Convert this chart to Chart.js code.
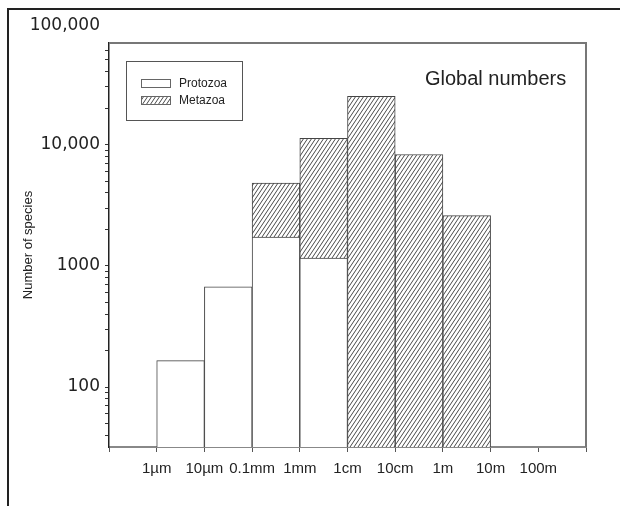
<!DOCTYPE html>
<html>
<head>
<meta charset="utf-8">
<script src="https://cdn.jsdelivr.net/npm/chart.js@4/dist/chart.umd.min.js"></script>
<style>
    body { margin: 0; background: #fff; }
    #wrap { position: relative; width: 620px; height: 506px; overflow: hidden; }
    #frame {
        position: absolute; left: 7px; top: 8px; right: -10px; bottom: -10px;
        border-left: 2px solid #222; border-top: 2px solid #222;
        pointer-events: none;
    }
    canvas { position: absolute; left: 0; top: 0; }
</style>
</head>
<body>
<div id="wrap">
    <canvas id="chart" width="620" height="506"></canvas>
    <div id="frame"></div>
</div>
<script>
// Size classes on the x axis (one tick each)
const sizeLabels = ['1µm', '10µm', '0.1mm', '1mm', '1cm', '10cm', '1m', '10m', '100m'];
// Each bin runs from its lower size class to the next one
const binStart = ['1µm', '10µm', '0.1mm', '1mm', '1cm', '10cm', '1m'];
// Number of species per size bin
const protozoa = [165, 670, 1730, 1160, null, null, null];
const metazoa = [null, null, 3100, 10100, 25000, 8300, 2600];
// Labelled decades on the y axis
const yTickValues = [100, 1000, 10000, 100000];
const yTickLabels = ['100', '1000', '10,000', '100,000'];
const legendTitle = 'Global numbers';

const Y_MIN = 32, Y_MAX = 69000;

function makeHatch() {
    const w = 4, h = 6;
    const c = document.createElement('canvas');
    c.width = w; c.height = h;
    const g = c.getContext('2d');
    g.fillStyle = '#fff';
    g.fillRect(0, 0, w, h);
    g.strokeStyle = '#333';
    g.lineWidth = 0.9;
    g.beginPath();
    for (const dx of [-w, 0, w]) {
        for (const dy of [-h, 0, h]) {
            g.moveTo(dx, h + dy);
            g.lineTo(w + dx, dy);
        }
    }
    g.stroke();
    return g.createPattern(c, 'repeat');
}
const hatch = makeHatch();

const binX = binStart.map(s => sizeLabels.indexOf(s) + 1.5);

// frame, legend box, extra label
const extras = {
    id: 'extras',
    afterDraw(chart) {
        const ctx = chart.ctx;
        const a = chart.chartArea;
        const y = chart.scales.y;
        ctx.save();
        // plot frame top + right
        ctx.strokeStyle = '#777';
        ctx.lineWidth = 2;
        ctx.beginPath();
        ctx.moveTo(a.left, a.top);
        ctx.lineTo(a.right, a.top);
        ctx.lineTo(a.right, a.bottom);
        ctx.stroke();

        // 100,000 label sits above the plot
        ctx.fillStyle = '#222';
        ctx.font = '17px "DejaVu Sans"';
        ctx.textAlign = 'right';
        ctx.textBaseline = 'middle';
        const i = yTickValues.length - 1;
        ctx.fillText(yTickLabels[i], y.right - 9, y.getPixelForValue(yTickValues[i]) + 2);

        // title text in the plot
        ctx.font = '20px "Liberation Sans", Arial';
        ctx.textAlign = 'left';
        ctx.fillText(legendTitle, 425, 79);

        // legend
        ctx.strokeStyle = '#555';
        ctx.lineWidth = 1;
        ctx.strokeRect(126.5, 61.5, 116, 59);
        chart.data.datasets.forEach((ds, k) => {
            const top = 79 + k * 17;
            ctx.fillStyle = ds.backgroundColor;
            ctx.fillRect(141, top, 30, 9);
            ctx.strokeStyle = '#666';
            ctx.strokeRect(141.5, top + 0.5, 29, 8);
            ctx.fillStyle = '#222';
            ctx.font = '12px "Liberation Sans", Arial';
            ctx.textBaseline = 'middle';
            ctx.fillText(ds.label, 179, top + 5);
        });
        ctx.restore();
    }
};

new Chart(document.getElementById('chart'), {
    type: 'bar',
    data: {
        datasets: [
            {
                label: 'Protozoa',
                data: binX.map((x, i) => ({ x: x, y: protozoa[i] })),
                backgroundColor: '#fff',
                borderColor: '#444',
                borderWidth: 1
            },
            {
                label: 'Metazoa',
                data: binX.map((x, i) => ({ x: x, y: metazoa[i] })),
                backgroundColor: hatch,
                borderColor: '#444',
                borderWidth: 1
            }
        ]
    },
    options: {
        responsive: false,
        animation: false,
        barPercentage: 1,
        categoryPercentage: 1,
        layout: { padding: { left: 0, top: 43, right: 34, bottom: 19 } },
        plugins: {
            legend: { display: false },
            tooltip: { enabled: false }
        },
        scales: {
            x: {
                type: 'linear',
                stacked: true,
                offset: false,
                min: 0,
                max: 10,
                afterFit(scale) { scale.height = 40; },
                ticks: {
                    stepSize: 1,
                    autoSkip: false,
                    maxRotation: 0,
                    padding: 8,
                    color: '#222',
                    font: { family: '"Liberation Sans", Arial', size: 15 },
                    callback: v => sizeLabels[v - 1] || ''
                },
                grid: {
                    offset: false,
                    drawOnChartArea: false,
                    tickLength: 5,
                    color: '#555'
                },
                border: { color: '#888', width: 2 }
            },
            y: {
                type: 'logarithmic',
                stacked: true,
                min: Y_MIN,
                max: Y_MAX,
                afterFit(scale) { scale.width = 109; },
                afterBuildTicks(scale) {
                    const t = [];
                    for (let e = 1; e <= 4; e++) {
                        for (let m = 1; m <= 9; m++) {
                            const v = m * Math.pow(10, e);
                            if (v >= Y_MIN && v <= Y_MAX) t.push({ value: v, major: m === 1 });
                        }
                    }
                    scale.ticks = t;
                },
                ticks: {
                    autoSkip: false,
                    padding: 5,
                    color: '#222',
                    font: { family: '"DejaVu Sans"', size: 17 },
                    callback: v => {
                        const i = yTickValues.indexOf(v);
                        return i >= 0 ? yTickLabels[i] : '';
                    }
                },
                grid: {
                    drawOnChartArea: false,
                    tickLength: 4,
                    color: '#333'
                },
                border: { color: '#222', width: 1.5 },
                title: {
                    display: true,
                    text: 'Number of species',
                    color: '#222',
                    font: { family: '"Liberation Sans", Arial', size: 13 },
                    padding: { top: 21, bottom: 0 }
                }
            }
        }
    },
    plugins: [extras]
});
</script>
</body>
</html>
